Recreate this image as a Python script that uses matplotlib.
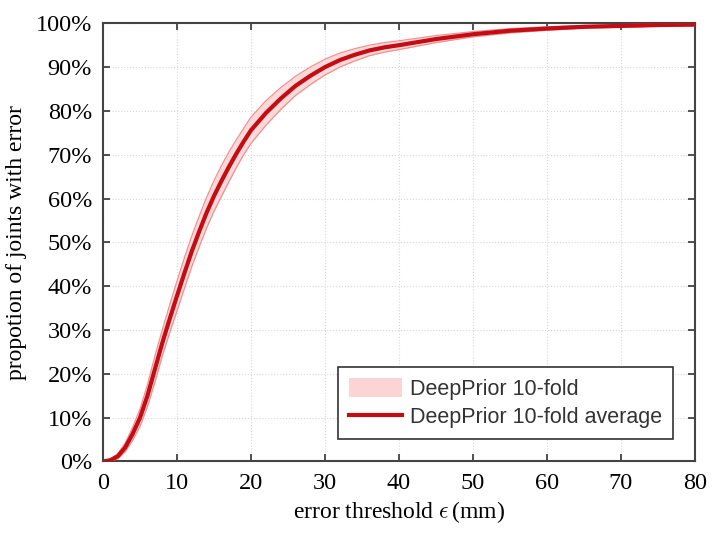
import numpy as np
import matplotlib
matplotlib.use('Agg')
import matplotlib.pyplot as plt
from matplotlib.patches import Patch
from matplotlib.lines import Line2D

plt.rcParams['mathtext.fontset'] = 'cm'

# datos (porcentaje de articulaciones con error < umbral).
UMBRAL = [0, 1, 2, 3, 4, 5, 6, 7, 8, 9, 10, 11, 12, 13, 14, 15, 16, 17, 18, 19, 20,
          22, 24, 26, 28, 30, 32, 34, 36, 38, 40, 45, 50, 55, 60, 65, 70, 75, 80]
PROMEDIO = [0, 0.3, 1.2, 3.2, 6.3, 10, 15, 21, 27, 32.5, 37.8, 43, 48, 52.5, 56.8, 60.6,
            64, 67.2, 70.2, 73, 75.6, 79.5, 82.8, 85.7, 88, 90, 91.6, 92.8, 93.8, 94.5,
            95, 96.4, 97.5, 98.3, 98.8, 99.2, 99.4, 99.6, 99.7]
BANDA_INF = [0, 0.1, 0.6, 2.2, 4.8, 8.0, 12.5, 18.0, 24.0, 29.3, 34.4, 39.5, 44.5, 49.0,
             53.3, 57.1, 60.5, 63.8, 67.0, 70.0, 72.6, 76.7, 80.3, 83.5, 86.0, 88.2,
             90.0, 91.4, 92.6, 93.4, 94.0, 95.6, 96.9, 97.8, 98.4, 98.9, 99.1, 99.3, 99.4]
BANDA_SUP = [0, 0.5, 1.8, 4.2, 7.8, 12.0, 17.5, 24.0, 30.0, 35.7, 41.2, 46.5, 51.5, 56.0,
             60.3, 64.1, 67.5, 70.6, 73.4, 76.0, 78.6, 82.3, 85.3, 87.9, 90.0, 91.8,
             93.2, 94.2, 95.0, 95.6, 96.0, 97.2, 98.1, 98.8, 99.2, 99.5, 99.7, 99.8, 99.9]

fig = plt.figure(figsize=(7.17, 5.44), dpi=100)
ax = fig.add_axes([0.1437, 0.1517, 0.8256, 0.8055])

# banda de los 10 folds.
ax.fill_between(UMBRAL, BANDA_INF, BANDA_SUP, color='#fcd9d9', lw=0, zorder=2)
ax.plot(UMBRAL, BANDA_INF, color='#f29090', lw=0.9, zorder=3)
ax.plot(UMBRAL, BANDA_SUP, color='#f29090', lw=0.9, zorder=3)

# promedio.
ax.plot(UMBRAL, PROMEDIO, color='#c40c14', lw=3, zorder=4)

ax.set_xlim(0, 80)
ax.set_ylim(0, 100)
ax.set_xticks(range(0, 81, 10))
ax.set_yticks(range(0, 101, 10))
ax.set_yticklabels(['{}%'.format(v) for v in range(0, 101, 10)])
ax.grid(True, color='#d8d8d8', ls=':', lw=0.8, zorder=0)

for lab in ax.get_xticklabels() + ax.get_yticklabels():
    lab.set_fontfamily('Liberation Serif')
    lab.set_fontsize(17.5)
ax.tick_params(direction='in', length=5, width=1.2, color='#333333',
               top=True, right=True, pad=8)
for s in ax.spines.values():
    s.set_color('#444444')
    s.set_linewidth(1.5)

ax.set_xlabel(r'error threshold $\epsilon\,$(mm)', fontfamily='Liberation Serif', fontsize=17, labelpad=4)
ax.set_ylabel('propotion of joints with error', fontfamily='Liberation Serif', fontsize=17, labelpad=6)

# leyenda.
handles = [Patch(facecolor='#fcd4d4', edgecolor='none', label='DeepPrior 10-fold'),
           Line2D([0], [0], color='#c40c14', lw=3, label='DeepPrior 10-fold average')]
leg = ax.legend(handles=handles, loc='lower right', bbox_to_anchor=(0.963, 0.051),
                prop={'family': 'Liberation Sans', 'size': 15.5}, fancybox=False,
                framealpha=1, edgecolor='#333333', handlelength=2.45, handleheight=1.0,
                borderpad=0.5, labelspacing=0.3, handletextpad=0.4, borderaxespad=0)
leg.get_frame().set_linewidth(1.2)
for t in leg.get_texts():
    t.set_color('#333333')

plt.savefig('out.png', dpi=100)
